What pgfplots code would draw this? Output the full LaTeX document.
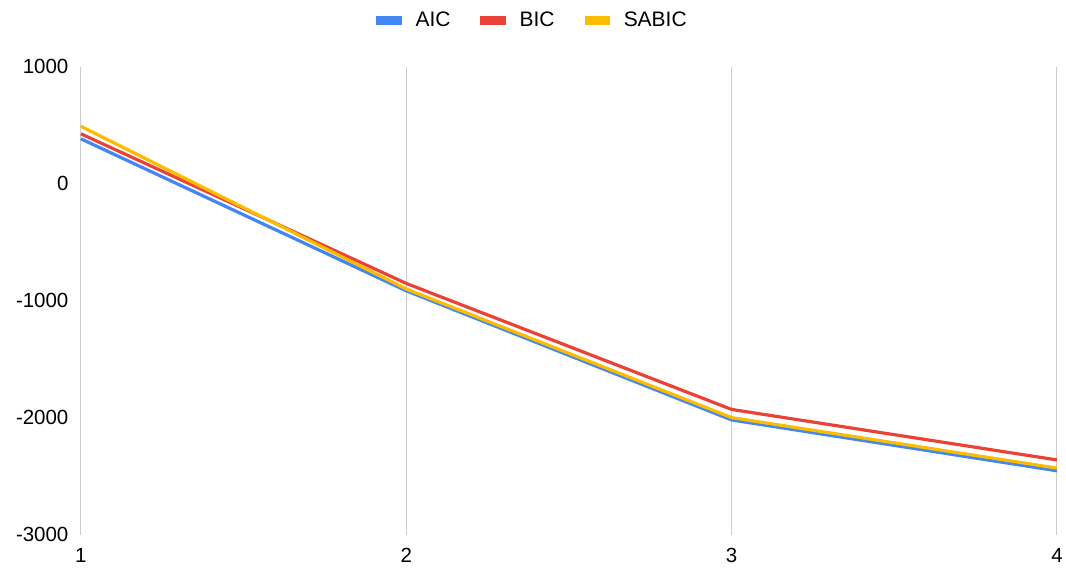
\documentclass[border=0pt]{standalone}
\usepackage{fontspec}
\setmainfont{Liberation Sans}
\usepackage{pgfplots}
\pgfplotsset{compat=1.18}

\definecolor{aicblue}{HTML}{4285F4}
\definecolor{bicred}{HTML}{EA4335}
\definecolor{sabicyellow}{HTML}{FBBC04}
\definecolor{gridgray}{HTML}{CCCCCC}

\begin{document}
\begin{tikzpicture}
\begin{axis}[
    scale only axis,
    width=977pt, height=468pt,
    xmin=1, xmax=4,
    ymin=-3000, ymax=1000,
    xtick={1,2,3,4},
    ytick={-3000,-2000,-1000,0,1000},
    yticklabels={-3000,-2000,-1000,0,1000},
    xticklabels={1,2,3,4},
    axis line style={draw=none},
    major tick length=0pt,
    xmajorgrids,
    grid style={gridgray, line width=1pt},
    tick label style={font=\fontsize{20.5}{24}\selectfont, text=black},
    yticklabel style={xshift=-9pt},
    xticklabel style={yshift=-10pt},
    clip=false,
    legend columns=-1,
    legend style={draw=none, at={(rel axis cs:0.4627,1.100)}, anchor=center,
        font=\fontsize{21}{24}\selectfont,
        /tikz/every odd column/.append style={column sep=12pt},
        /tikz/every even column/.append style={column sep=28pt}},
    legend image code/.code={\fill[#1] (0pt,-3pt) rectangle (22pt,3pt);},
]
\addplot[aicblue, line width=3.2pt] coordinates {(1,385)(2,-915)(3,-2020)(4,-2455)};
\addlegendentry{AIC}
\addplot[bicred, line width=3.2pt] coordinates {(1,428)(2,-852)(3,-1930)(4,-2362)};
\addlegendentry{BIC}
\addplot[sabicyellow, line width=3.2pt] coordinates {(1,492)(2,-900)(3,-2000)(4,-2432)};
\addlegendentry{SABIC}
\path (rel axis cs:-0.0829,1.1432) rectangle (rel axis cs:1.0082,-0.0726);
\end{axis}
\end{tikzpicture}
\end{document}
